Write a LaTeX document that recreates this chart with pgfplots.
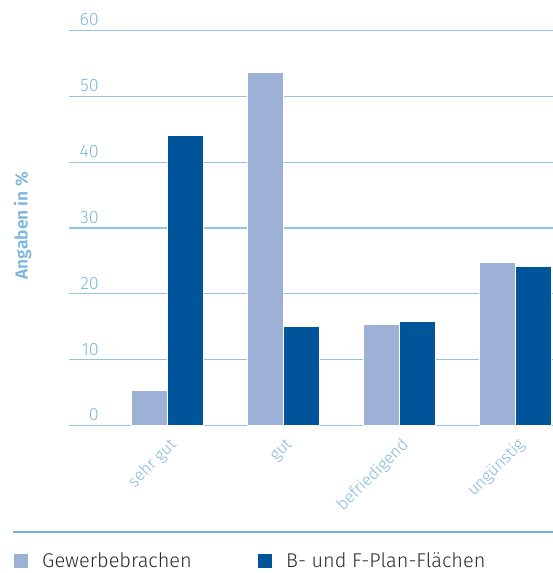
\documentclass[border=0pt]{standalone}
\usepackage{fontspec}
\setmainfont{Fira Sans Light}[BoldFont={Fira Sans SemiBold}]
\usepackage{pgfplots}
\pgfplotsset{compat=1.18}

\definecolor{lightbar}{HTML}{9DB0D6}
\definecolor{darkbar}{HTML}{005499}
\definecolor{gridblue}{HTML}{92C4E4}
\definecolor{textblue}{HTML}{7DB7DE}
\definecolor{sepblue}{HTML}{72B2DC}
\definecolor{legtext}{HTML}{2B2B2B}

\begin{document}
\begin{tikzpicture}[x=1bp,y=1bp]
\useasboundingbox (0,0) rectangle (553,573);
\begin{axis}[
    at={(69bp,147.5bp)}, anchor=south west,
    scale only axis, width=484bp, height=395bp,
    xmin=-0.849, xmax=3.323, ymin=0, ymax=60,
    xtick={0,1,2,3},
    xticklabels={sehr gut,gut,befriedigend,ungünstig},
    ytick={0,10,...,60},
    ymajorgrids,
    grid style={gridblue, line width=1.3bp},
    axis line style={draw=none},
    major tick length=0pt,
    tick style={draw=none},
    /pgf/number format/assume math mode=true,
    yticklabel style={inner sep=0pt, anchor=base east, xshift=30bp, yshift=4.5bp,
        text=textblue, font=\fontsize{18}{20}\selectfont},
    xticklabel style={xshift=6.5bp, yshift=-17bp, rotate=45, anchor=east, inner sep=0pt,
        text=textblue, font=\fontsize{16.5}{18}\selectfont},
    ylabel={\bfseries Angaben in \%},
    ylabel style={at={(axis description cs:-0.096,0.506)}, anchor=center,
        text=textblue, font=\fontsize{17.5}{19}\selectfont},
    legend columns=2,
    legend style={at={(axis description cs:-0.1136,-0.343)}, anchor=west,
        draw=none, fill=none, inner sep=0pt, text=legtext,
        font=\fontsize{20}{23}\selectfont,
        nodes={inner sep=0pt}},
    legend cell align=left,
    legend image code/.code={\fill[#1,draw=none] (0bp,-7bp) rectangle (14bp,7bp);},
]
\addplot[ybar, bar width=36bp, bar shift=-18.2bp, fill=lightbar, draw=white, line width=1.5bp]
    coordinates {(0,5.4) (1,53.7) (2,15.4) (3,24.8)};
\addlegendentry{\hspace{14bp}\makebox[216bp][l]{Gewerbebrachen}}
\addplot[ybar, bar width=36bp, bar shift=18.2bp, fill=darkbar, draw=white, line width=1.5bp]
    coordinates {(0,44.1) (1,15.1) (2,15.9) (3,24.2)};
\addlegendentry{\hspace{14bp}B- und F-Plan-Flächen}
\end{axis}
\draw[sepblue, line width=2.5bp] (13,41) -- (553,41);
\end{tikzpicture}
\end{document}
